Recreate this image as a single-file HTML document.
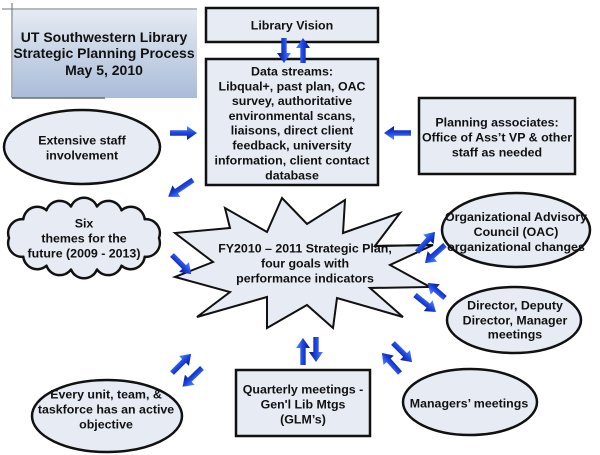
<!DOCTYPE html>
<html>
<head>
<meta charset="utf-8">
<style>
  html,body{margin:0;padding:0;background:#fff;}
  body{width:600px;height:455px;overflow:hidden;}
  svg{display:block;}
  text{font-family:"Liberation Sans",Arial,sans-serif;font-weight:bold;fill:#111;text-anchor:middle;}
  .t{font-size:12.4px;}
  .h{font-size:14px;}
</style>
</head>
<body>
<svg width="600" height="455" viewBox="0 0 600 455" xmlns="http://www.w3.org/2000/svg">
  <defs>
    <linearGradient id="tg" x1="0" y1="0" x2="0" y2="1">
      <stop offset="0" stop-color="#e6ebf3"/>
      <stop offset="1" stop-color="#a9bcd8"/>
    </linearGradient>
    <linearGradient id="ag" x1="0" y1="0" x2="0" y2="1">
      <stop offset="0" stop-color="#5a8cff"/>
      <stop offset="0.5" stop-color="#1c44e0"/>
      <stop offset="1" stop-color="#06168c"/>
    </linearGradient>
    <polygon id="a23" points="0,-2.7 13,-2.7 13,-7 23,0 13,7 13,2.7 0,2.7" fill="url(#ag)"/>
    <polygon id="a25" points="0,-2.7 15,-2.7 15,-7 25,0 15,7 15,2.7 0,2.7" fill="url(#ag)"/>
    <polygon id="a27" points="0,-2.7 17,-2.7 17,-7 27,0 17,7 17,2.7 0,2.7" fill="url(#ag)"/>
    <polygon id="a30" points="0,-2.7 20,-2.7 20,-7 30,0 20,7 20,2.7 0,2.7" fill="url(#ag)"/>
  </defs>

  <!-- Title panel -->
  <rect x="13" y="10" width="184" height="88" fill="url(#tg)"/>
  <line x1="2" y1="9" x2="197" y2="9" stroke="#8a8f96" stroke-width="1.2"/>
  <line x1="12" y1="3" x2="12" y2="98" stroke="#7a7f86" stroke-width="1.2"/>
  <line x1="12" y1="98" x2="105" y2="98" stroke="#6a6f76" stroke-width="1.5"/>
  <text class="h" x="104" y="42">UT Southwestern Library</text>
  <text class="h" x="104" y="58">Strategic Planning Process</text>
  <text class="h" x="104" y="75">May 5, 2010</text>

  <!-- Library Vision -->
  <rect x="206" y="8" width="172" height="34" fill="#e6ebf4" stroke="#111" stroke-width="2.5"/>
  <text class="t" x="292" y="29.5">Library Vision</text>

  <!-- Data streams -->
  <rect x="206" y="59" width="172" height="126" fill="#e6ebf4" stroke="#111" stroke-width="2.5"/>
  <text class="t" x="292" y="75.5">Data streams:</text>
  <text class="t" x="292" y="90.5">Libqual+, past plan, OAC</text>
  <text class="t" x="292" y="105">survey, authoritative</text>
  <text class="t" x="292" y="120">environmental scans,</text>
  <text class="t" x="292" y="134.5">liaisons, direct client</text>
  <text class="t" x="292" y="149.5">feedback, university</text>
  <text class="t" x="292" y="164.5">information, client contact</text>
  <text class="t" x="292" y="179.5">database</text>

  <!-- Planning associates -->
  <rect x="419" y="98" width="156" height="76" fill="#e6ebf4" stroke="#111" stroke-width="2.5"/>
  <text class="t" x="497" y="126.5">Planning associates:</text>
  <text class="t" x="497" y="141.5">Office of Ass’t VP &amp; other</text>
  <text class="t" x="497" y="156.5">staff as needed</text>

  <!-- Extensive staff involvement -->
  <ellipse cx="82" cy="147" rx="78" ry="37" fill="#e6ebf4" stroke="#111" stroke-width="2.5"/>
  <text class="t" x="82" y="144.5">Extensive staff</text>
  <text class="t" x="82" y="159.5">involvement</text>

  <!-- Cloud -->
  <path d="M159,238 A14,14 0 0,1 144.7,256.8 A14,14 0 0,1 121.5,265.7 A14,14 0 0,1 97,269.5 A14,14 0 0,1 71,269.5 A14,14 0 0,1 46.5,265.7 A14,14 0 0,1 23.3,256.8 A14,14 0 0,1 9,238 A14,14 0 0,1 23.3,219.2 A14,14 0 0,1 46.5,210.3 A14,14 0 0,1 71,206.5 A14,14 0 0,1 97,206.5 A14,14 0 0,1 121.5,210.3 A14,14 0 0,1 144.7,219.2 A14,14 0 0,1 159,238 Z" fill="#e6ebf4" stroke="#111" stroke-width="2.5" stroke-linejoin="round"/>
  <text class="t" x="84" y="227.5">Six</text>
  <text class="t" x="84" y="242.5">themes for the</text>
  <text class="t" x="84" y="257.5">future (2009 - 2013)</text>

  <!-- Star -->
  <polygon points="282,198 307,224 345,200 343,233 400,213 375,246 433,245 390,265 430,287 370,288 403,317 337,298 333,328 307,305 267,328 267,297 197,317 230,292 175,277 213,262 175,233 230,228 225,208 267,232" fill="#e6ebf4" stroke="#111" stroke-width="2" stroke-linejoin="miter"/>
  <text class="t" x="305" y="252.5">FY2010 – 2011 Strategic Plan,</text>
  <text class="t" x="305" y="267.5">four goals with</text>
  <text class="t" x="305" y="282.5">performance indicators</text>
  <!-- redraw right spike edge over text -->
  <line x1="375" y1="246" x2="433" y2="245" stroke="#111" stroke-width="2"/>

  <!-- OAC -->
  <ellipse cx="516" cy="230" rx="74" ry="37" fill="#e6ebf4" stroke="#111" stroke-width="2.5"/>
  <text class="t" x="516" y="221">Organizational Advisory</text>
  <text class="t" x="516" y="236">Council (OAC)</text>
  <text class="t" x="516" y="251">organizational changes</text>

  <!-- Director -->
  <ellipse cx="514" cy="320" rx="67" ry="33" fill="#e6ebf4" stroke="#111" stroke-width="2.5"/>
  <text class="t" x="515" y="309.5">Director, Deputy</text>
  <text class="t" x="515" y="324.5">Director, Manager</text>
  <text class="t" x="515" y="338.5">meetings</text>

  <!-- Managers -->
  <ellipse cx="470" cy="402" rx="67" ry="33" fill="#e6ebf4" stroke="#111" stroke-width="2.5"/>
  <text class="t" x="469" y="407.5">Managers’ meetings</text>

  <!-- Quarterly -->
  <rect x="236" y="370" width="134" height="66" fill="#e6ebf4" stroke="#111" stroke-width="2.5"/>
  <text class="t" x="303" y="393.5">Quarterly meetings -</text>
  <text class="t" x="303" y="408.5">Gen'l Lib Mtgs</text>
  <text class="t" x="303" y="423.5">(GLM’s)</text>

  <!-- Every unit -->
  <ellipse cx="107" cy="416" rx="75" ry="36" fill="#e6ebf4" stroke="#111" stroke-width="2.5"/>
  <text class="t" x="106" y="398.5">Every unit, team, &amp;</text>
  <text class="t" x="106" y="413.5">taskforce has an active</text>
  <text class="t" x="106" y="428.5">objective</text>

  <!-- Arrows -->
  <use href="#a25" transform="translate(284,38) rotate(90)"/>
  <use href="#a25" transform="translate(303,63) rotate(-90)"/>
  <use href="#a27" transform="translate(170,133)"/>
  <use href="#a27" transform="translate(411,133) rotate(180)"/>
  <use href="#a30" transform="translate(193,180) rotate(146)"/>
  <use href="#a27" transform="translate(172,255) rotate(45)"/>
  <use href="#a27" transform="translate(417,252) rotate(-48)"/>
  <use href="#a27" transform="translate(445,245) rotate(138)"/>
  <use href="#a23" transform="translate(445,298) rotate(-139)"/>
  <use href="#a27" transform="translate(415,295) rotate(39)"/>
  <use href="#a27" transform="translate(303,365) rotate(-90)"/>
  <use href="#a25" transform="translate(316,337) rotate(90)"/>
  <use href="#a27" transform="translate(393,343) rotate(45)"/>
  <use href="#a27" transform="translate(400,373) rotate(-132)"/>
  <use href="#a27" transform="translate(172,373) rotate(-45)"/>
  <use href="#a27" transform="translate(202,368) rotate(136)"/>
</svg>
</body>
</html>
